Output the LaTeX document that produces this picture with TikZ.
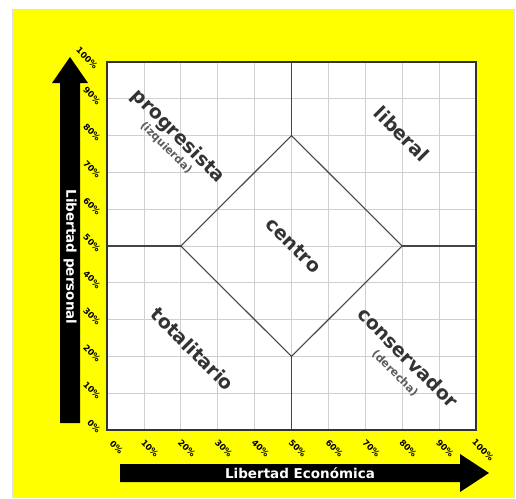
\documentclass[tikz,border=0pt]{standalone}
\usepackage{fontspec}
\setmainfont{DejaVu Sans}
\definecolor{bgyellow}{HTML}{FFFF00}
\definecolor{txt}{HTML}{333333}
\definecolor{gridc}{HTML}{CFCFCF}
\definecolor{linec}{HTML}{444444}
\begin{document}
\begin{tikzpicture}[x=1pt,y=-1pt,
  region/.style={text=txt,font=\bfseries\fontsize{19}{19}\selectfont,rotate=-45,inner sep=0pt},
  sub/.style={text=txt!80,font=\bfseries\fontsize{11}{11}\selectfont,rotate=-45,inner sep=0pt},
  pct/.style={text=black,font=\bfseries\fontsize{8.5}{8.5}\selectfont,rotate=-45,inner sep=0pt},
  axisname/.style={text=white,font=\bfseries\fontsize{13.5}{13.5}\selectfont,inner sep=0pt},
  divline/.style={draw=linec,line width=1.1pt},
  gridline/.style={draw=gridc,line width=0.8pt}]
\useasboundingbox (0,0) rectangle (516,498);
\fill[white] (0,0) rectangle (516,498);
\fill[bgyellow] (12,9) rectangle (514,498);
\draw[gray!25,line width=0.8pt] (12,498) -- (12,9) -- (514,9) -- (514,498);
% plot box
\fill[white] (107,62) rectangle (476,430);
\foreach \i in {1,...,9}{
  \draw[gridline] ({107+36.9*\i},62) -- ({107+36.9*\i},430);
  \draw[gridline] (107,{62+36.8*\i}) -- (476,{62+36.8*\i});
}
% diamond and dividers
\coordinate (T) at (291.5,135.6);
\coordinate (L) at (180.8,246);
\coordinate (B) at (291.5,356.4);
\coordinate (R) at (402.2,246);
\coordinate (Tm) at (291.5,62);
\coordinate (Lm) at (107,246);
\coordinate (Bm) at (291.5,430);
\coordinate (Rm) at (476,246);
\draw[divline] (T) -- (R) -- (B) -- (L) -- cycle;
\draw[divline] (T) -- (Tm);
\draw[divline] (L) -- (Lm);
\draw[divline] (B) -- (Bm);
\draw[divline] (R) -- (Rm);
\draw[draw=txt,line width=2pt] (107,62) rectangle (476,430);
% region labels
\node[region] (prog) at (178,136.5) {progresista};
\node[sub] (izq) at (166,148) {(izquierda)};
\node[region] (lib) at (402,134) {liberal};
\node[region] (cen) at (293.5,245.5) {centro};
\node[region] (tot) at (193,349) {totalitario};
\node[region] (con) at (408,357.5) {conservador};
\node[sub] (der) at (395,373.5) {(derecha)};
% vertical arrow
\fill[black] (60,423) -- (60,83) -- (52,83) -- (70,57) -- (88,83) -- (80,83) -- (80,423) -- cycle;
\node[axisname,rotate=-90] (ylab) at (70,257) {Libertad personal};
% horizontal arrow
\fill[black] (120,464) -- (460,464) -- (460,454) -- (489,473) -- (460,492) -- (460,482) -- (120,482) -- cycle;
\node[axisname] (xlab) at (300,473.5) {Libertad Económica};
% y percent labels
\node[pct] (y0) at (94,426) {0\%};
\foreach \i in {1,...,9}{
  \node[pct] (y\i) at (92,{430-36.8*\i-3}) {\i0\%};
}
\node[pct] (y10) at (87,58) {100\%};
% x percent labels
\node[pct] (x0) at (116.5,447) {0\%};
\foreach \i in {1,...,9}{
  \node[pct] (x\i) at ({107+36.9*\i+6},448) {\i0\%};
}
\node[pct] (x10) at (483,450) {100\%};
\end{tikzpicture}
\end{document}
